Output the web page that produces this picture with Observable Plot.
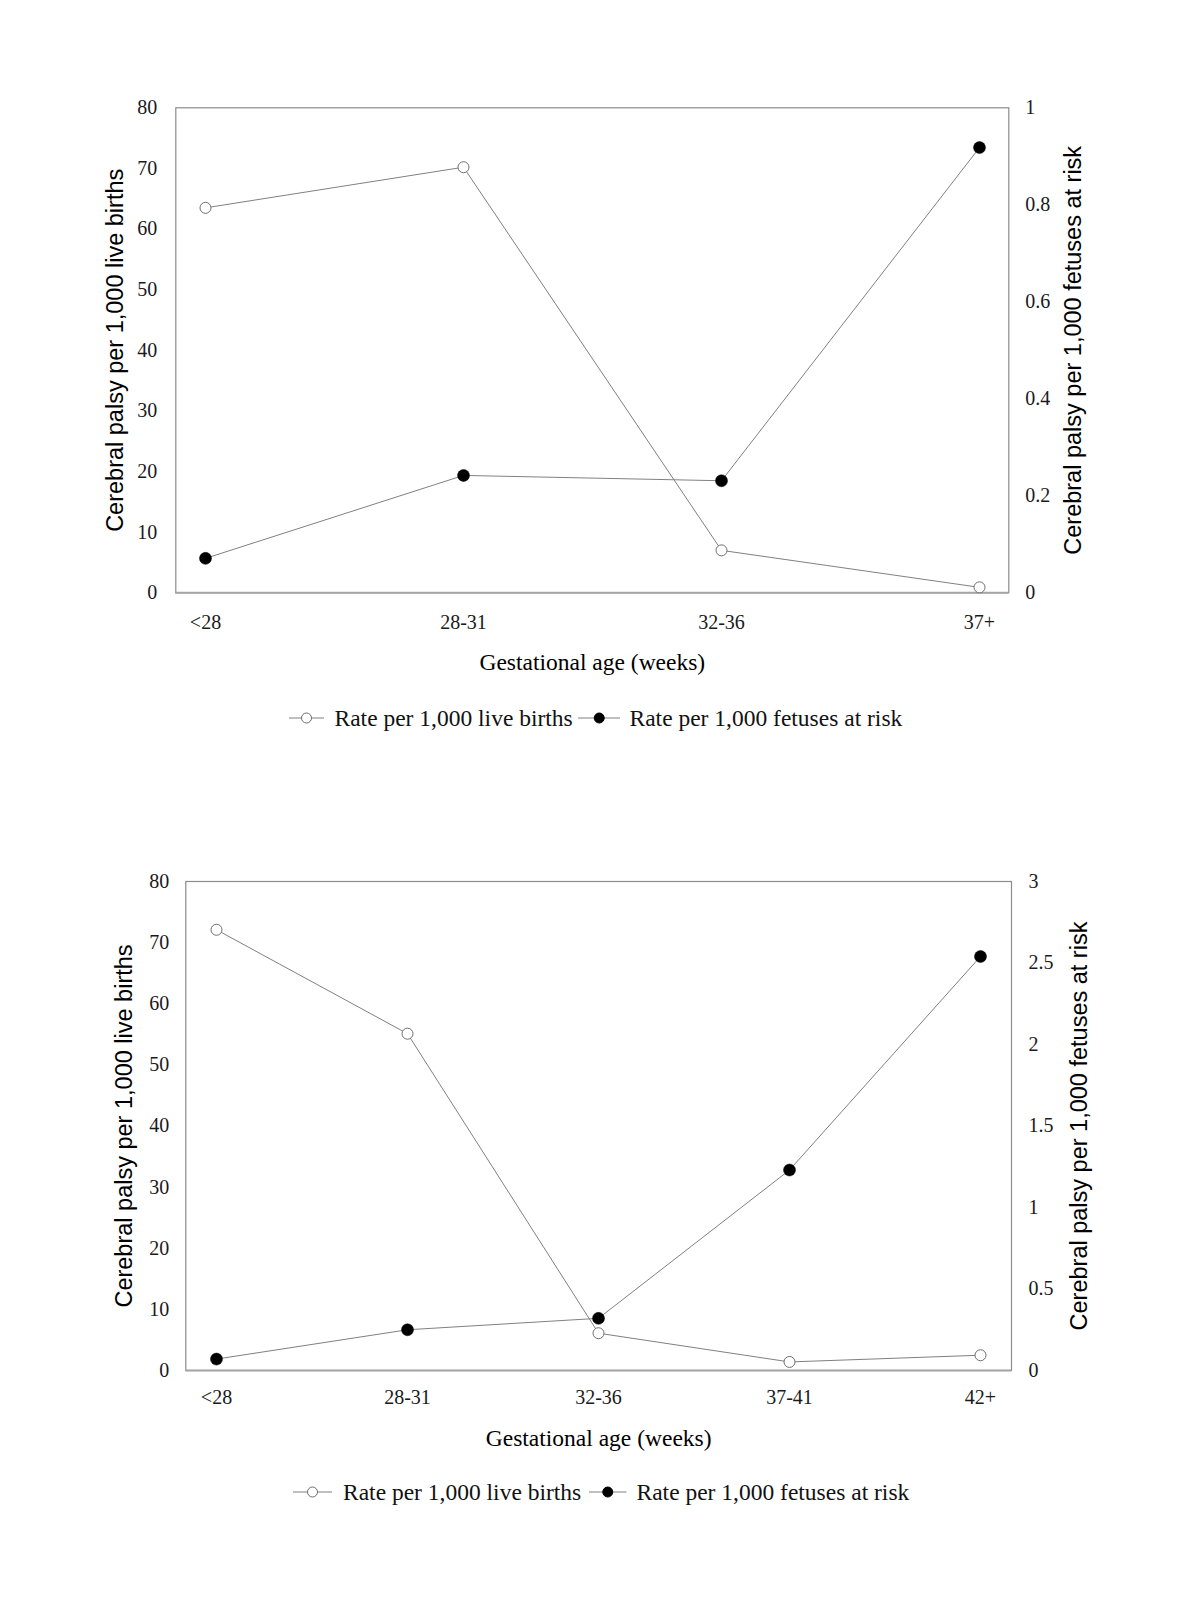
<!DOCTYPE html>
<html>
<head>
<meta charset="utf-8">
<script src="https://cdn.jsdelivr.net/npm/d3@7"></script>
<script src="https://cdn.jsdelivr.net/npm/@observablehq/plot@0.6"></script>
<style>
  html, body { margin: 0; padding: 0; background: #fff; overflow: hidden; }
  #page { position: relative; width: 1200px; height: 1600px; background: #fff; }
  .chart { position: absolute; left: 0; width: 1200px; }
  .chart svg { max-width: none !important; }
  .legend { position: absolute; left: 0; width: 1200px; height: 40px; font-family: "Liberation Serif", "Times New Roman", serif; font-size: 23.5px; color: #111; }
  .legend span { position: absolute; top: 0; line-height: 40px; white-space: nowrap; }
  .legend svg { position: absolute; top: 0; }
</style>
</head>
<body>
<div id="page"></div>
<script>
// ---- Data ----
const categoriesTop = ["<28", "28-31", "32-36", "37+"];
const liveBirthsTop = [63.5, 70.2, 7.0, 0.9];
const fetusesAtRiskTop = [0.071, 0.242, 0.231, 0.918];
const leftTicksTop = [0, 10, 20, 30, 40, 50, 60, 70, 80];
const rightTicksTop = [0, 0.2, 0.4, 0.6, 0.8, 1];

const categoriesBottom = ["<28", "28-31", "32-36", "37-41", "42+"];
const liveBirthsBottom = [72.1, 55.1, 6.1, 1.4, 2.5];
const fetusesAtRiskBottom = [0.07, 0.25, 0.32, 1.23, 2.54];
const leftTicksBottom = [0, 10, 20, 30, 40, 50, 60, 70, 80];
const rightTicksBottom = [0, 0.5, 1, 1.5, 2, 2.5, 3];

const leftTitle = "Cerebral palsy per 1,000 live births";
const rightTitle = "Cerebral palsy per 1,000 fetuses at risk";
const xTitle = "Gestational age (weeks)";
const seriesNames = ["Rate per 1,000 live births", "Rate per 1,000 fetuses at risk"];

const LEFT_MAX = 80;

function makeChart(cfg) {
  const rows = cfg.categories.map((c, i) => ({cat: c, live: cfg.live[i], fetus: cfg.fetus[i]}));
  const k = LEFT_MAX / cfg.rightMax;
  const serif = "Liberation Serif";
  const sans = "Liberation Sans";
  return Plot.plot({
    width: 1200,
    height: cfg.height,
    marginTop: cfg.marginTop,
    marginBottom: cfg.marginBottom,
    marginLeft: cfg.marginLeft,
    marginRight: cfg.marginRight,
    style: {fontFamily: serif, fontSize: "20px", color: "#1a1a1a", background: "transparent", overflow: "visible"},
    x: {type: "point", domain: cfg.categories, padding: cfg.padding},
    y: {domain: [0, LEFT_MAX]},
    marks: [
      Plot.frame({stroke: "#8c8c8c", strokeWidth: 1.2}),
      Plot.ruleY([0], {stroke: "#a6a6a6", strokeWidth: 2}),
      Plot.axisY(cfg.leftTicks, {anchor: "left", tickSize: 0, tickPadding: cfg.leftPad, fontSize: 20, label: null}),
      Plot.axisY(cfg.rightTicks.map(v => v * k), {
        anchor: "right", tickSize: 0, tickPadding: cfg.rightPad, fontSize: 20, label: null,
        tickFormat: d => String(+(d / k).toFixed(3))
      }),
      Plot.axisX({tickSize: 0, tickPadding: cfg.xPad, fontSize: 20, label: null}),
      Plot.line(rows, {x: "cat", y: "live", stroke: "#808080", strokeWidth: 1}),
      Plot.line(rows, {x: "cat", y: d => d.fetus * k, stroke: "#808080", strokeWidth: 1}),
      Plot.dot(rows, {x: "cat", y: "live", r: 5.5, fill: "white", stroke: "#6e6e6e", strokeWidth: 1}),
      Plot.dot(rows, {x: "cat", y: d => d.fetus * k, r: 6, fill: "#000", stroke: "#000", strokeWidth: 0.5}),
      Plot.text([leftTitle], {frameAnchor: "left", textAnchor: "middle", dx: cfg.leftTitleDx, rotate: -90, fontFamily: sans, fontSize: 23.5, fill: "#000"}),
      Plot.text([rightTitle], {frameAnchor: "right", textAnchor: "middle", dx: cfg.rightTitleDx, rotate: -90, fontFamily: sans, fontSize: 23.5, fill: "#000"}),
      Plot.text([xTitle], {frameAnchor: "bottom", textAnchor: "middle", dy: cfg.xTitleDy, fontFamily: serif, fontSize: 23.5, fill: "#000"})
    ]
  });
}

function symbol(filled, width) {
  const ns = "http://www.w3.org/2000/svg";
  const svg = document.createElementNS(ns, "svg");
  svg.setAttribute("width", width);
  svg.setAttribute("height", 40);
  const line = document.createElementNS(ns, "line");
  line.setAttribute("x1", 0); line.setAttribute("x2", width);
  line.setAttribute("y1", 20); line.setAttribute("y2", 20);
  line.setAttribute("stroke", "#808080"); line.setAttribute("stroke-width", 1);
  svg.appendChild(line);
  const c = document.createElementNS(ns, "circle");
  c.setAttribute("cx", width / 2); c.setAttribute("cy", 20);
  c.setAttribute("r", 5);
  c.setAttribute("fill", filled ? "#000" : "#fff");
  c.setAttribute("stroke", filled ? "#000" : "#6e6e6e");
  c.setAttribute("stroke-width", 1);
  svg.appendChild(c);
  return svg;
}

function makeLegend(top, layout) {
  const div = document.createElement("div");
  div.className = "legend";
  div.style.top = top + "px";
  seriesNames.forEach((name, i) => {
    const L = layout[i];
    const s = symbol(i === 1, L.symEnd - L.symStart);
    s.style.left = L.symStart + "px";
    div.appendChild(s);
    const span = document.createElement("span");
    span.textContent = name;
    span.style.left = L.text + "px";
    div.appendChild(span);
  });
  return div;
}

const page = document.getElementById("page");

const top1 = document.createElement("div");
top1.className = "chart";
top1.style.top = "0px";
top1.appendChild(makeChart({
  categories: categoriesTop, live: liveBirthsTop, fetus: fetusesAtRiskTop,
  rightMax: 1, leftTicks: leftTicksTop, rightTicks: rightTicksTop,
  height: 700, marginTop: 107.3, marginBottom: 107.7, marginLeft: 175.3, marginRight: 191.7,
  padding: 0.11, leftPad: 18.5, rightPad: 16.5, xPad: 22,
  leftTitleDx: -60, rightTitleDx: 65, xTitleDy: 77
}));
page.appendChild(top1);
page.appendChild(makeLegend(698, [
  {symStart: 289, symEnd: 324, text: 334.5},
  {symStart: 577.5, symEnd: 620, text: 629.5}
]));

const bot = document.createElement("div");
bot.className = "chart";
bot.style.top = "760px";
bot.appendChild(makeChart({
  categories: categoriesBottom, live: liveBirthsBottom, fetus: fetusesAtRiskBottom,
  rightMax: 3, leftTicks: leftTicksBottom, rightTicks: rightTicksBottom,
  height: 720, marginTop: 121, marginBottom: 110, marginLeft: 185.3, marginRight: 189,
  padding: 0.16, leftPad: 16.5, rightPad: 17, xPad: 19,
  leftTitleDx: -61, rightTitleDx: 67.5, xTitleDy: 75
}));
page.appendChild(bot);
page.appendChild(makeLegend(1472, [
  {symStart: 293, symEnd: 332, text: 343},
  {symStart: 589, symEnd: 626.5, text: 636.5}
]));
</script>
</body>
</html>
